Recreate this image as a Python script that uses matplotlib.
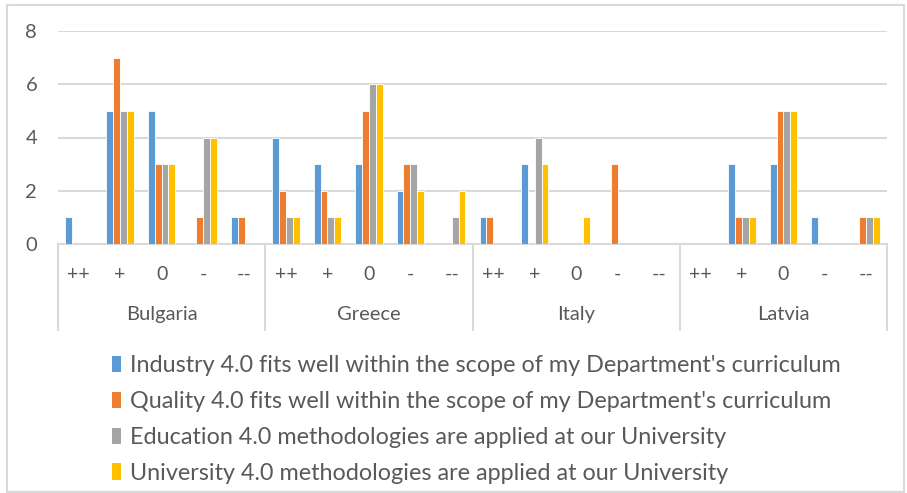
import matplotlib
matplotlib.use("Agg")
import matplotlib.pyplot as plt
from matplotlib.patches import Patch, Rectangle
import numpy as np

plt.rcParams['font.family'] = ['Lato', 'DejaVu Sans']

countries = ["Bulgaria", "Greece", "Italy", "Latvia"]
ratings = ["++", "+", "0", "-", "--"]
series_names = [
    "Industry 4.0 fits well within the scope of my Department's curriculum",
    "Quality 4.0 fits well within the scope of my Department's curriculum",
    "Education 4.0 methodologies are applied at our University",
    "University 4.0 methodologies are applied at our University",
]
industry = [1, 5, 5, 0, 1,   4, 3, 3, 2, 0,   1, 3, 0, 0, 0,   0, 3, 3, 1, 0]
quality = [0, 7, 3, 1, 1,    2, 2, 5, 3, 0,   1, 0, 0, 3, 0,   0, 1, 5, 0, 1]
education = [0, 5, 3, 4, 0,  1, 1, 6, 3, 1,   0, 4, 0, 0, 0,   0, 1, 5, 0, 1]
university = [0, 5, 3, 4, 0, 1, 1, 6, 2, 2,   0, 3, 1, 0, 0,   0, 1, 5, 0, 1]
series = [industry, quality, education, university]
colors = ["#5B9BD5", "#ED7D31", "#A5A5A5", "#FFC000"]

W, H = 907, 493
fig = plt.figure(figsize=(W / 100, H / 100), dpi=100)
fig.patches.append(Rectangle((7 / W, 1 / H), (W - 10) / W, (H - 6) / H, transform=fig.transFigure,
                             fill=False, edgecolor="#D9D9D9", linewidth=1.5))

left, right, top, bottom = 58, 887, 31, 244
ax = fig.add_axes([left / W, 1 - bottom / H, (right - left) / W, (bottom - top) / H])

n = len(countries) * len(ratings)
x = np.arange(n)
bw = 0.165
for i, (vals, c) in enumerate(zip(series, colors)):
    ax.bar(x + (i - 1.5) * bw, vals, width=bw, color=c, edgecolor="white", linewidth=0.6, zorder=3)

ax.set_xlim(-0.5, n - 0.5)
ax.set_ylim(0, 8)
ax.set_yticks([0, 2, 4, 6, 8])
ax.set_yticklabels(["0", "2", "4", "6", "8"], fontsize=14.5, color="#595959")
ax.tick_params(axis='y', length=0, pad=15)
ax.set_xticks([])
ax.grid(axis='y', color="#D9D9D9", linewidth=1.5, zorder=0)
for s in ["top", "right", "left"]:
    ax.spines[s].set_visible(False)
ax.spines["bottom"].set_color("#D9D9D9")
ax.spines["bottom"].set_linewidth(1.5)

trans = ax.get_xaxis_transform()
for k in range(n):
    ax.text(k, -0.141, ratings[k % len(ratings)], transform=trans, ha='center', va='center',
            fontsize=14, color="#595959")
for j, cn in enumerate(countries):
    ax.text(j * 5 + 2, -0.333, cn, transform=trans, ha='center', va='center',
            fontsize=14.5, color="#595959")
for j in range(len(countries) + 1):
    ax.plot([j * 5 - 0.5, j * 5 - 0.5], [0, -0.404], transform=trans, color="#D9D9D9",
            linewidth=1.5, clip_on=False)

handles = [Patch(facecolor=c, edgecolor='none') for c in colors]
fig.legend(handles, series_names, loc='upper left', bbox_to_anchor=(112 / W, 1 - 355 / H),
           frameon=False, fontsize=16.8, labelcolor="#595959", handlelength=0.4, handleheight=0.7,
           handletextpad=0.35, labelspacing=0.64, borderpad=0, borderaxespad=0)

fig.savefig("out.png", dpi=100)
